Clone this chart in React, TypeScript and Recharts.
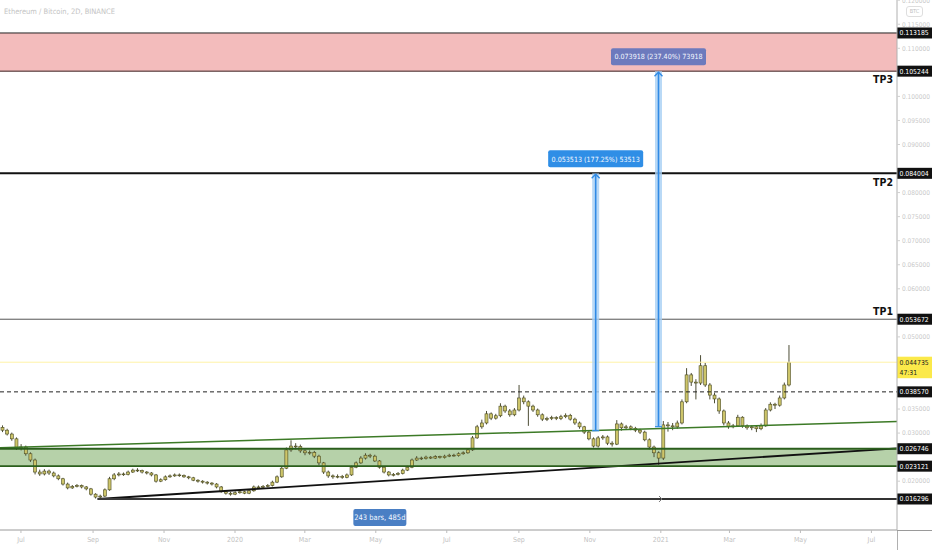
import React from "react";
import {
  Bar,
  ComposedChart,
  ReferenceArea,
  ReferenceLine,
  XAxis,
  YAxis,
} from "recharts";

// days counted from 2020-01-01, one candle drawn per 4 days (two 2D bars)
const firstCandleDay = -200;
const candleStepDays = 4;

const opens = [
  0.0312, 0.0306, 0.0298, 0.0288, 0.0269, 0.0271, 0.0257, 0.0244, 0.0219, 0.0215,
  0.0221, 0.0217, 0.0211, 0.0205, 0.0194, 0.0186, 0.0189, 0.0191, 0.0188, 0.0184,
  0.0173, 0.0167, 0.0169, 0.0182, 0.0205, 0.0213, 0.0215, 0.0214, 0.0219, 0.0223,
  0.0222, 0.0219, 0.0217, 0.0213, 0.02, 0.0203, 0.0209, 0.0211, 0.0213, 0.0212,
  0.0209, 0.0207, 0.0202, 0.02, 0.0198, 0.0196, 0.0194, 0.0188, 0.0178, 0.0175,
  0.0173, 0.0176, 0.0178, 0.0175, 0.018, 0.0188, 0.0187, 0.0189, 0.0191, 0.0198,
  0.0209, 0.0227, 0.0265, 0.0273, 0.0272, 0.0263, 0.0259, 0.026, 0.0252, 0.0238,
  0.0219, 0.0211, 0.0209, 0.021, 0.0208, 0.0213, 0.0229, 0.0238, 0.0248, 0.0254,
  0.0252, 0.0242, 0.0229, 0.0219, 0.0213, 0.0214, 0.0216, 0.0223, 0.0229, 0.0244,
  0.0248, 0.0247, 0.025, 0.0248, 0.0251, 0.0249, 0.0252, 0.0254, 0.0253, 0.0257,
  0.0259, 0.0265, 0.029, 0.0313, 0.0321, 0.034, 0.0331, 0.0336, 0.0356, 0.0346,
  0.0338, 0.0348, 0.0373, 0.0365, 0.0356, 0.0348, 0.0338, 0.0329, 0.033, 0.0332,
  0.033, 0.0334, 0.0337, 0.0329, 0.0321, 0.0313, 0.0302, 0.0288, 0.0273, 0.029,
  0.0292, 0.0279, 0.0277, 0.0319, 0.0311, 0.0313, 0.031, 0.0306, 0.0302, 0.0286,
  0.0271, 0.0259, 0.0248, 0.0317, 0.0315, 0.0313, 0.0321, 0.0365, 0.0421, 0.0406,
  0.0404, 0.044, 0.04, 0.0379, 0.0371, 0.0346, 0.0321, 0.0313, 0.0315, 0.0333,
  0.0315, 0.0311, 0.0313, 0.0309, 0.0315, 0.0348, 0.036, 0.0358, 0.0373, 0.04,
];

const highs = [
  0.0316, 0.0309, 0.0301, 0.0291, 0.0277, 0.0274, 0.026, 0.0247, 0.0224, 0.0225,
  0.0224, 0.022, 0.0214, 0.0207, 0.0197, 0.0192, 0.0194, 0.0193, 0.019, 0.0186,
  0.0175, 0.0172, 0.0185, 0.0209, 0.0217, 0.0219, 0.0218, 0.0222, 0.0226, 0.0227,
  0.0224, 0.0221, 0.0219, 0.0215, 0.0206, 0.0212, 0.0214, 0.0216, 0.0216, 0.0214,
  0.0211, 0.0209, 0.0204, 0.0202, 0.02, 0.0198, 0.0196, 0.019, 0.0181, 0.0178,
  0.0179, 0.0181, 0.018, 0.0183, 0.0191, 0.0191, 0.0192, 0.0194, 0.0201, 0.0212,
  0.0231, 0.027, 0.0285, 0.0279, 0.0276, 0.0266, 0.0264, 0.0263, 0.0255, 0.024,
  0.0222, 0.0214, 0.0214, 0.0213, 0.0216, 0.0232, 0.0241, 0.0252, 0.0258, 0.0257,
  0.0255, 0.0244, 0.0231, 0.0221, 0.0217, 0.0219, 0.0226, 0.0232, 0.0247, 0.0252,
  0.0251, 0.0253, 0.0252, 0.0254, 0.0253, 0.0255, 0.0257, 0.0257, 0.026, 0.0262,
  0.0268, 0.0294, 0.0317, 0.0328, 0.0346, 0.0343, 0.034, 0.0362, 0.0359, 0.035,
  0.0352, 0.04, 0.0378, 0.0368, 0.0359, 0.0351, 0.0341, 0.0334, 0.0336, 0.0335,
  0.0338, 0.0341, 0.034, 0.0332, 0.0324, 0.0315, 0.0305, 0.0291, 0.0294, 0.0296,
  0.0295, 0.0283, 0.0327, 0.0322, 0.0317, 0.0316, 0.0313, 0.0309, 0.0305, 0.0289,
  0.0274, 0.0262, 0.0325, 0.0323, 0.0321, 0.0326, 0.037, 0.0435, 0.0425, 0.0412,
  0.0462, 0.0446, 0.0404, 0.0384, 0.0374, 0.0349, 0.0325, 0.0319, 0.0338, 0.0335,
  0.0318, 0.0316, 0.0315, 0.032, 0.0352, 0.0364, 0.0363, 0.0378, 0.0405, 0.0483,
];

const lows = [
  0.0302, 0.0295, 0.0284, 0.0265, 0.0264, 0.0253, 0.024, 0.0214, 0.0211, 0.0212,
  0.0213, 0.0208, 0.0202, 0.0191, 0.0183, 0.0184, 0.0187, 0.0185, 0.0181, 0.017,
  0.0164, 0.0163, 0.0167, 0.018, 0.0202, 0.021, 0.0211, 0.0212, 0.0217, 0.0219,
  0.0216, 0.0214, 0.021, 0.0197, 0.0198, 0.0201, 0.0207, 0.0209, 0.0209, 0.0207,
  0.0204, 0.02, 0.0197, 0.0195, 0.0193, 0.0191, 0.0185, 0.0176, 0.0172, 0.017,
  0.0171, 0.0174, 0.0173, 0.0173, 0.0178, 0.0184, 0.0185, 0.0187, 0.0189, 0.0196,
  0.0207, 0.0225, 0.0261, 0.0266, 0.0259, 0.0254, 0.0255, 0.0248, 0.0233, 0.0215,
  0.0207, 0.0205, 0.0206, 0.0205, 0.0206, 0.0211, 0.0227, 0.0236, 0.0245, 0.0248,
  0.024, 0.0226, 0.0216, 0.021, 0.021, 0.0212, 0.0214, 0.0221, 0.0227, 0.0242,
  0.0244, 0.0245, 0.0246, 0.0246, 0.0247, 0.0247, 0.025, 0.0251, 0.0251, 0.0255,
  0.0257, 0.0263, 0.0288, 0.0309, 0.0318, 0.0327, 0.0328, 0.0333, 0.0342, 0.0334,
  0.0335, 0.0345, 0.036, 0.0315, 0.0344, 0.0334, 0.0325, 0.0325, 0.0327, 0.0327,
  0.0327, 0.0331, 0.0326, 0.0317, 0.0309, 0.0298, 0.0285, 0.027, 0.027, 0.0286,
  0.0275, 0.0272, 0.0275, 0.0305, 0.0307, 0.0306, 0.0302, 0.0298, 0.0283, 0.0266,
  0.025, 0.0234, 0.0244, 0.0303, 0.0306, 0.0309, 0.0318, 0.0362, 0.0398, 0.037,
  0.04, 0.0396, 0.037, 0.0362, 0.034, 0.0316, 0.0309, 0.031, 0.0313, 0.0311,
  0.0307, 0.0306, 0.0302, 0.0306, 0.0313, 0.0345, 0.035, 0.0355, 0.037, 0.0397,
];

const closes = [
  0.0306, 0.0298, 0.0288, 0.0269, 0.0271, 0.0257, 0.0244, 0.0219, 0.0215, 0.0221,
  0.0217, 0.0211, 0.0205, 0.0194, 0.0186, 0.0189, 0.0191, 0.0188, 0.0184, 0.0173,
  0.0167, 0.0169, 0.0182, 0.0205, 0.0213, 0.0215, 0.0214, 0.0219, 0.0223, 0.0222,
  0.0219, 0.0217, 0.0213, 0.02, 0.0203, 0.0209, 0.0211, 0.0213, 0.0212, 0.0209,
  0.0207, 0.0202, 0.02, 0.0198, 0.0196, 0.0194, 0.0188, 0.0178, 0.0175, 0.0173,
  0.0176, 0.0178, 0.0175, 0.018, 0.0188, 0.0187, 0.0189, 0.0191, 0.0198, 0.0209,
  0.0227, 0.0265, 0.0273, 0.0272, 0.0263, 0.0259, 0.026, 0.0252, 0.0238, 0.0219,
  0.0211, 0.0209, 0.021, 0.0208, 0.0213, 0.0229, 0.0238, 0.0248, 0.0254, 0.0252,
  0.0242, 0.0229, 0.0219, 0.0213, 0.0214, 0.0216, 0.0223, 0.0229, 0.0244, 0.0248,
  0.0247, 0.025, 0.0248, 0.0251, 0.0249, 0.0252, 0.0254, 0.0253, 0.0257, 0.0259,
  0.0265, 0.029, 0.0313, 0.0321, 0.034, 0.0331, 0.0336, 0.0356, 0.0346, 0.0338,
  0.0348, 0.0373, 0.0365, 0.0356, 0.0348, 0.0338, 0.0329, 0.033, 0.0332, 0.033,
  0.0334, 0.0337, 0.0329, 0.0321, 0.0313, 0.0302, 0.0288, 0.0273, 0.029, 0.0292,
  0.0279, 0.0277, 0.0319, 0.0311, 0.0313, 0.031, 0.0306, 0.0302, 0.0286, 0.0271,
  0.0259, 0.0248, 0.0317, 0.0315, 0.0313, 0.0321, 0.0365, 0.0421, 0.0406, 0.0404,
  0.044, 0.04, 0.0379, 0.0371, 0.0346, 0.0321, 0.0313, 0.0315, 0.0333, 0.0315,
  0.0311, 0.0313, 0.0309, 0.0315, 0.0348, 0.036, 0.0358, 0.0373, 0.04, 0.0447,
];

const monthTicks = [-184, -122, -61, 0, 60, 121, 182, 244, 305, 366, 425, 486, 547];
const monthLabels = ["Jul", "Sep", "Nov", "2020", "Mar", "May", "Jul", "Sep", "Nov", "2021", "Mar", "May", "Jul"];

// scale labels that are not covered by a level badge
const priceTicks = [
  0.12, 0.115, 0.11, 0.1, 0.095, 0.09, 0.08, 0.075, 0.07, 0.065, 0.06,
  0.05, 0.035, 0.03, 0.02,
];

const zoneTop = 0.113185;
const tp3 = 0.105244;
const tp2 = 0.084004;
const tp1 = 0.053672;
const lastPrice = 0.044735;
const countdown = "47:31";
const midLevel = 0.03857;
const supportTop = 0.026746;
const supportBottom = 0.023121;
const rangeLow = 0.016296;

const channelLine = [
  { d: -202, p: 0.02694 },
  { d: 569, p: 0.0324 },
];
const risingLine = [
  { d: -118, p: 0.016296 },
  { d: 569, p: 0.0268 },
];

const moveDays = [310, 364];
const moveFrom = [0.030491, 0.031326];
const moveTo = [0.084004, 0.105244];
const moveLabels = ["0.053513 (177.25%) 53513", "0.073918 (237.40%) 73918"];

const measureFrom = -118;
const measureTo = 367;
const measureLabel = "243 bars, 485d";

const candleData = closes.map((close, i) => ({
  d: firstCandleDay + i * candleStepDays,
  open: opens[i],
  high: highs[i],
  low: lows[i],
  close,
  range: [lows[i], highs[i]],
}));

const FONT = "'Liberation Sans Narrow', 'DejaVu Sans Condensed', Roboto, sans-serif";
const fmt = (v: number) => v.toFixed(6);

function Candle(props: any) {
  const { x, y, width, height, payload } = props;
  if (!payload || height == null) return null;
  const { open, close, high, low } = payload;
  const h = Math.abs(height);
  const top = Math.min(y, y + height);
  const ppu = h / (high - low);
  const cx = x + width / 2;
  const bodyTop = top + (high - Math.max(open, close)) * ppu;
  const bodyBottom = top + (high - Math.min(open, close)) * ppu;
  return (
    <g>
      <line x1={cx} x2={cx} y1={top} y2={top + h} stroke="#4d4d35" strokeWidth={1} />
      <rect
        x={x}
        y={bodyTop}
        width={width}
        height={Math.max(bodyBottom - bodyTop, 0.8)}
        fill="#cdc56a"
        stroke="#4a4a22"
        strokeWidth={0.6}
      />
    </g>
  );
}

function level(
  stroke: string,
  strokeWidth: number,
  badgeBg: string,
  badgeFg: string,
  lines: string[],
  dash?: string,
  tag?: string,
  tagDy?: number,
) {
  return (props: any) => {
    const left = Math.min(props.x1, props.x2);
    const right = Math.max(props.x1, props.x2);
    const y = props.y1;
    return (
      <g>
        <line x1={left} x2={right} y1={y} y2={y} stroke={stroke} strokeWidth={strokeWidth} strokeDasharray={dash} />
        {tag ? (
          <text x={right - 4} y={y + (tagDy ?? 0)} textAnchor="end" fontSize={10.5} fontWeight={700} fill="#111" fontFamily={FONT}>
            {tag}
          </text>
        ) : null}
        <rect x={right} y={y - 5.5} width={35} height={lines.length * 10.5 + 0.5} fill={badgeBg} />
        {lines.map((t, i) => (
          <text key={i} x={right + 2.5} y={y + 2.5 + i * 10.5} fontSize={6.8} fill={badgeFg} fontFamily={FONT}>
            {t}
          </text>
        ))}
      </g>
    );
  };
}

function moveArrow(label: string, boxColor: string) {
  return (props: any) => {
    const x = props.x1;
    const top = Math.min(props.y1, props.y2);
    const bottom = Math.max(props.y1, props.y2);
    const w = 95;
    return (
      <g>
        <rect x={x - 3.5} y={top} width={7} height={bottom - top} fill="#a8cff4" fillOpacity={0.8} />
        <line x1={x} x2={x} y1={top + 1} y2={bottom} stroke="#2f8ae5" strokeWidth={1.6} />
        <line x1={x - 3.5} x2={x + 3.5} y1={bottom} y2={bottom} stroke="#2f8ae5" strokeWidth={1.2} />
        <polyline
          points={`${x - 4},${top + 5} ${x},${top + 1} ${x + 4},${top + 5}`}
          fill="none"
          stroke="#2f8ae5"
          strokeWidth={1.4}
        />
        <rect x={x - w / 2} y={top - 23} width={w} height={17} rx={2} fill={boxColor} />
        <text x={x} y={top - 11.8} textAnchor="middle" fontSize={7.1} fill="#f4f8ff" fontFamily={FONT}>
          {label}
        </text>
      </g>
    );
  };
}

function measure(props: any) {
  const left = Math.min(props.x1, props.x2);
  const right = Math.max(props.x1, props.x2);
  const y = props.y1;
  const mid = (left + right) / 2;
  return (
    <g>
      <line x1={left} x2={right} y1={y} y2={y} stroke="#3a3a3a" strokeWidth={2} />
      <polyline points={`${right - 3},${y - 3} ${right},${y} ${right - 3},${y + 3}`} fill="none" stroke="#777" strokeWidth={1} />
      <rect x={mid - 26.5} y={y + 10} width={53} height={17} rx={2} fill="#4a7fc4" />
      <text x={mid} y={y + 21.2} textAnchor="middle" fontSize={7.5} fill="#f4f8ff" fontFamily={FONT}>
        {measureLabel}
      </text>
    </g>
  );
}

export default function App() {
  return (
    <div style={{ position: "relative", width: 932, height: 550, background: "#fff", overflow: "hidden" }}>
      <style>{`body{margin:0}`}</style>
      <ComposedChart
        width={932}
        height={550}
        data={candleData}
        margin={{ top: 0, right: 0, bottom: 0, left: 0 }}
        style={{ fontFamily: FONT }}
      >
        <XAxis
          dataKey="d"
          type="number"
          domain={[-202, 569]}
          allowDataOverflow
          ticks={monthTicks}
          interval={0}
          tickFormatter={(v: number) => monthLabels[monthTicks.indexOf(v)] ?? ""}
          height={20}
          tickSize={3}
          tickMargin={4}
          tick={{ fontSize: 7, fill: "#c2c2c2", fontFamily: FONT }}
          axisLine={{ stroke: "#9a9a9a" }}
          tickLine={{ stroke: "#bdbdbd" }}
        />
        <YAxis
          orientation="right"
          type="number"
          domain={[0.00985, 0.12004]}
          allowDataOverflow
          ticks={priceTicks}
          interval={0}
          tickFormatter={fmt}
          width={35}
          tickSize={3}
          tickMargin={2}
          tick={{ fontSize: 6.5, fill: "#cacaca", fontFamily: FONT }}
          axisLine={{ stroke: "#b0b0b0" }}
          tickLine={{ stroke: "#d0d0d0" }}
        />
        <ReferenceArea y1={tp3} y2={zoneTop} fill="#f3bcbc" fillOpacity={1} stroke="none" />
        <ReferenceArea y1={supportBottom} y2={supportTop} fill="#b6d1a9" fillOpacity={1} stroke="none" />
        <ReferenceLine y={lastPrice} shape={(p: any) => <line x1={p.x1} x2={p.x2} y1={p.y1} y2={p.y2} stroke="#fff3a6" strokeWidth={1} />} />
        <ReferenceLine
          segment={[
            { x: channelLine[0].d, y: channelLine[0].p },
            { x: channelLine[1].d, y: channelLine[1].p },
          ]}
          stroke="#3c7a26"
          strokeWidth={1.5}
        />
        <Bar dataKey="range" barSize={3} shape={Candle} isAnimationActive={false} />
        <ReferenceLine
          segment={[
            { x: risingLine[0].d, y: risingLine[0].p },
            { x: risingLine[1].d, y: risingLine[1].p },
          ]}
          stroke="#111"
          strokeWidth={1.8}
        />
        <ReferenceLine y={zoneTop} shape={level("#222", 1, "#111", "#fff", [fmt(zoneTop)])} />
        <ReferenceLine y={tp3} shape={level("#3a1f1f", 1, "#111", "#fff", [fmt(tp3)], undefined, "TP3", 12)} />
        <ReferenceLine y={tp2} shape={level("#111", 2, "#111", "#fff", [fmt(tp2)], undefined, "TP2", 13)} />
        <ReferenceLine y={tp1} shape={level("#555", 1, "#111", "#fff", [fmt(tp1)], undefined, "TP1", -4)} />
        <ReferenceLine y={lastPrice} shape={level("transparent", 0, "#fbe94a", "#222", [fmt(lastPrice), countdown])} />
        <ReferenceLine y={midLevel} shape={level("#222", 1, "#111", "#fff", [fmt(midLevel)], "4 3")} />
        <ReferenceLine y={supportTop} shape={level("#2b5e1d", 1.8, "#111", "#fff", [fmt(supportTop)])} />
        <ReferenceLine y={supportBottom} shape={level("#2b5e1d", 1.8, "#111", "#fff", [fmt(supportBottom)])} />
        <ReferenceLine
          segment={[
            { x: risingLine[0].d, y: rangeLow },
            { x: 569, y: rangeLow },
          ]}
          shape={level("#333", 2, "#111", "#fff", [fmt(rangeLow)])}
        />
        <ReferenceLine
          segment={[
            { x: measureFrom, y: rangeLow },
            { x: measureTo, y: rangeLow },
          ]}
          shape={measure}
        />
        {moveDays.map((d, i) => (
          <ReferenceLine
            key={d}
            segment={[
              { x: d, y: moveFrom[i] },
              { x: d, y: moveTo[i] },
            ]}
            shape={moveArrow(moveLabels[i], i === 0 ? "#2f8ee6" : "#6d7abd")}
          />
        ))}
      </ComposedChart>
      <div
        style={{
          position: "absolute",
          left: 4,
          top: 7,
          fontFamily: FONT,
          fontSize: 7.5,
          color: "#c4c4c4",
          whiteSpace: "nowrap",
        }}
      >
        Ethereum / Bitcoin, 2D, BINANCE
      </div>
      <div
        style={{
          position: "absolute",
          left: 906,
          top: 6,
          width: 15,
          height: 9,
          border: "1px solid #dedede",
          borderRadius: 3,
          background: "#fff",
          fontFamily: FONT,
          fontSize: 5.5,
          lineHeight: "9px",
          textAlign: "center",
          color: "#bdbdbd",
        }}
      >
        BTC
      </div>
      <div style={{ position: "absolute", left: 897, top: 530, width: 1, height: 20, background: "#b0b0b0" }} />
      <div style={{ position: "absolute", left: 897, top: 530, width: 35, height: 1, background: "#9a9a9a" }} />
    </div>
  );
}
